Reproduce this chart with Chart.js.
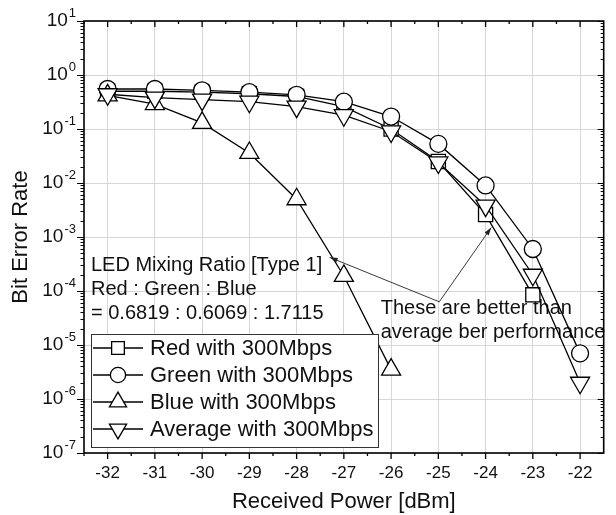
<!DOCTYPE html>
<html>
<head>
<meta charset="utf-8">
<script src="https://cdn.jsdelivr.net/npm/chart.js@4.4.0/dist/chart.umd.min.js"></script>
<style>
html, body { margin: 0; padding: 0; background: #fff; }
#contenedor { width: 616px; height: 515px; }
</style>
</head>
<body>
<div id="contenedor"><canvas id="grafica" width="616" height="515"></canvas></div>
<script>
// Datos (potencia recibida en dBm -> BER)
const potencias = [-32, -31, -30, -29, -28, -27, -26, -25, -24, -23, -22];
const berRojo = [0.50, 0.50, 0.48, 0.45, 0.40, 0.26, 0.10, 0.025, 0.0026, 0.000085, null];
const berVerde = [0.55, 0.55, 0.52, 0.48, 0.43, 0.32, 0.17, 0.053, 0.009, 0.0006, 0.000007];
const berAzul = [0.42, 0.29, 0.13, 0.036, 0.005, 0.00019, 0.0000035, null, null, null, null];
const berPromedio = [0.44, 0.38, 0.35, 0.32, 0.26, 0.18, 0.09, 0.024, 0.0038, 0.0002, 0.000002];
const decadas = [1e-7, 1e-6, 1e-5, 1e-4, 1e-3, 1e-2, 1e-1, 1, 10];
const etiquetas = ['Red with 300Mbps', 'Green with 300Mbps', 'Blue with 300Mbps', 'Average with 300Mbps'];
const textoMezcla = ['LED Mixing Ratio [Type 1]', 'Red : Green : Blue', '= 0.6819 : 0.6069 : 1.7115'];
const textoNota = ['These are better than', 'average ber performance'];
// flechas de la nota (en coordenadas de datos)
const origenFlecha = { x: -24.98, y: 6.3e-5 };
const puntasFlecha = [{ x: -27.3, y: 4.2e-4 }, { x: -23.88, y: 1.5e-3 }];

const fuente = 'Liberation Sans, Arial, sans-serif';

const puntos = serie => potencias.map((p, i) => ({ x: p, y: serie[i] }));

const estilo = (etiqueta, serie, forma, radio, rotacion, orden) => ({
    label: etiqueta,
    data: puntos(serie),
    borderColor: '#000',
    backgroundColor: '#fff',
    borderWidth: 1.3,
    pointStyle: forma,
    pointRadius: radio,
    pointRotation: rotacion,
    pointBorderWidth: 1.3,
    pointBorderColor: '#000',
    pointBackgroundColor: '#fff',
    spanGaps: false,
    order: orden
});

const conjuntos = [
    estilo(etiquetas[0], berRojo, 'rect', 10, 0, 3),
    estilo(etiquetas[1], berVerde, 'circle', 8.5, 0, 2),
    estilo(etiquetas[2], berAzul, 'triangle', 11, 0, 1),
    estilo(etiquetas[3], berPromedio, 'triangle', 11, 180, 0)
];

// textos de anotacion, debajo de las lineas
const anotaciones = {
    id: 'anotaciones',
    beforeDatasetsDraw(chart) {
        const ctx = chart.ctx;
        const area = chart.chartArea;
        const sx = chart.scales.x, sy = chart.scales.y;
        ctx.save();
        ctx.fillStyle = '#111';
        ctx.font = '20px ' + fuente;
        ctx.textBaseline = 'middle';
        ctx.textAlign = 'left';
        textoMezcla.forEach((t, i) => ctx.fillText(t, area.left + 7, 265 + i * 24));
        const x0 = sx.getPixelForValue(-26.22);
        const y0 = sy.getPixelForValue(origenFlecha.y) + 7;
        textoNota.forEach((t, i) => ctx.fillText(t, x0, y0 + i * 24));
        ctx.restore();
    }
};

// marco, marcas de los ejes, etiquetas 10^n, flechas y leyenda
const decoracion = {
    id: 'decoracion',
    afterDatasetsDraw(chart) {
        const ctx = chart.ctx;
        const a = chart.chartArea;
        const sx = chart.scales.x, sy = chart.scales.y;
        ctx.save();

        // flechas
        ctx.strokeStyle = '#222';
        ctx.fillStyle = '#222';
        ctx.lineWidth = 0.9;
        const ox = sx.getPixelForValue(origenFlecha.x), oy = sy.getPixelForValue(origenFlecha.y);
        puntasFlecha.forEach(p => {
            const px = sx.getPixelForValue(p.x), py = sy.getPixelForValue(p.y);
            const ang = Math.atan2(py - oy, px - ox);
            ctx.beginPath();
            ctx.moveTo(ox, oy);
            ctx.lineTo(px, py);
            ctx.stroke();
            ctx.beginPath();
            ctx.moveTo(px, py);
            ctx.lineTo(px - 8 * Math.cos(ang) + 2.5 * Math.sin(ang), py - 8 * Math.sin(ang) - 2.5 * Math.cos(ang));
            ctx.lineTo(px - 8 * Math.cos(ang) - 2.5 * Math.sin(ang), py - 8 * Math.sin(ang) + 2.5 * Math.cos(ang));
            ctx.closePath();
            ctx.fill();
        });

        // leyenda
        const lx = a.left + 7, ly = 334, lw = 287, lh = 113;
        ctx.fillStyle = '#fff';
        ctx.fillRect(lx, ly, lw, lh);
        ctx.strokeStyle = '#333';
        ctx.lineWidth = 1;
        ctx.strokeRect(lx + 0.5, ly + 0.5, lw, lh);
        chart.data.datasets.forEach((ds, i) => {
            const yy = ly + 14 + i * 27;
            ctx.strokeStyle = '#000';
            ctx.lineWidth = 1.3;
            ctx.beginPath();
            ctx.moveTo(lx + 2, yy);
            ctx.lineTo(lx + 52, yy);
            ctx.stroke();
            ctx.fillStyle = '#fff';
            Chart.helpers.drawPoint(ctx, {
                pointStyle: ds.pointStyle, radius: ds.pointRadius * 0.9,
                rotation: ds.pointRotation, borderWidth: 1.3
            }, lx + 27, yy);
            ctx.fillStyle = '#111';
            ctx.font = '22px ' + fuente;
            ctx.textAlign = 'left';
            ctx.textBaseline = 'middle';
            ctx.fillText(ds.label, lx + 59, yy + 1);
        });

        // marco del area
        ctx.strokeStyle = '#000';
        ctx.lineWidth = 1.6;
        ctx.strokeRect(a.left, a.top, a.right - a.left, a.bottom - a.top);

        // marcas eje x
        ctx.lineWidth = 1.3;
        ctx.beginPath();
        potencias.forEach(p => {
            const px = sx.getPixelForValue(p);
            ctx.moveTo(px, a.bottom); ctx.lineTo(px, a.bottom + 6);
            ctx.moveTo(px, a.top); ctx.lineTo(px, a.top + 6);
            const mx = sx.getPixelForValue(p - 0.5);
            ctx.moveTo(mx, a.bottom); ctx.lineTo(mx, a.bottom + 3);
            ctx.moveTo(mx, a.top); ctx.lineTo(mx, a.top + 3);
        });
        ctx.stroke();

        // marcas eje y (logaritmico)
        ctx.lineWidth = 1;
        ctx.beginPath();
        decadas.forEach((d, i) => {
            const py = Math.round(sy.getPixelForValue(d)) + 0.5;
            ctx.moveTo(a.left - 7, py); ctx.lineTo(a.left, py);
            ctx.moveTo(a.right, py); ctx.lineTo(a.right - 6, py);
            if (i < decadas.length - 1) {
                for (let k = 2; k <= 9; k++) {
                    const my = Math.round(sy.getPixelForValue(d * k)) + 0.5;
                    ctx.moveTo(a.left - 3.5, my); ctx.lineTo(a.left, my);
                    ctx.moveTo(a.right, my); ctx.lineTo(a.right - 3, my);
                }
            }
        });
        ctx.stroke();

        // etiquetas 10^n
        ctx.fillStyle = '#111';
        ctx.textBaseline = 'middle';
        ctx.textAlign = 'right';
        decadas.forEach(d => {
            const py = sy.getPixelForValue(d);
            const exp = String(Math.round(Math.log10(d)));
            ctx.font = '13px ' + fuente;
            const we = ctx.measureText(exp).width;
            ctx.fillText(exp, a.left - 8, py - 8);
            ctx.font = '19px ' + fuente;
            ctx.fillText('10', a.left - 9 - we, py);
        });
        ctx.restore();
    }
};

const ctx = document.getElementById('grafica').getContext('2d');
new Chart(ctx, {
    type: 'line',
    data: { datasets: conjuntos },
    options: {
        responsive: false,
        animation: false,
        layout: { padding: { top: 21, right: 0, bottom: 0, left: 0 } },
        plugins: { legend: { display: false }, tooltip: { enabled: false } },
        scales: {
            x: {
                type: 'linear',
                min: -32.5,
                max: -21.5,
                afterBuildTicks: s => { s.ticks = potencias.map(v => ({ value: v })); },
                afterFit: s => { s.height = 62; s.paddingLeft = 0; s.paddingRight = 0; },
                grid: { color: '#d6d6d6', lineWidth: 1, drawTicks: false },
                border: { display: false },
                ticks: {
                    color: '#111', padding: 10, maxRotation: 0, autoSkip: false,
                    font: { family: fuente, size: 17 }
                },
                title: {
                    display: true, text: 'Received Power [dBm]', color: '#111',
                    font: { family: fuente, size: 22 }, padding: { top: 0, bottom: 0 }
                }
            },
            y: {
                type: 'logarithmic',
                min: 1e-7,
                max: 10,
                afterBuildTicks: s => { s.ticks = decadas.map(v => ({ value: v, major: true })); },
                afterFit: s => { s.width = 84; },
                grid: { color: '#d6d6d6', lineWidth: 1, drawTicks: false },
                border: { display: false },
                ticks: { display: false },
                title: {
                    display: true, text: 'Bit Error Rate', color: '#111',
                    font: { family: fuente, size: 22 }, padding: { top: 8, bottom: 0 }
                }
            }
        }
    },
    plugins: [anotaciones, decoracion]
});
</script>
</body>
</html>
